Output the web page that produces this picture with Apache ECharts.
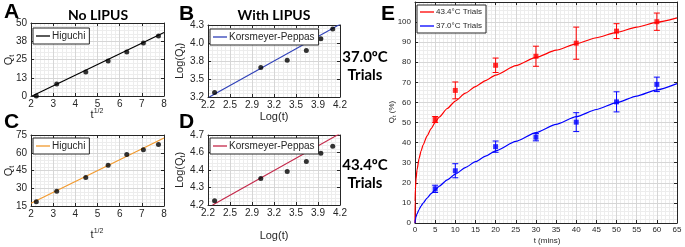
<!DOCTYPE html>
<html>
<head>
<meta charset="utf-8">
<script src="https://cdn.jsdelivr.net/npm/echarts@6/dist/echarts.min.js"></script>
<style>
  html, body { margin: 0; padding: 0; background: #fff; }
  #chart { width: 685px; height: 247px; }
</style>
</head>
<body>
<div id="chart"></div>
<script>
// ---- data ----
// sampling times 5..60 min, as sqrt(t) for Higuchi and ln(t) for Korsmeyer-Peppas
const rootT = [2.24, 3.16, 4.47, 5.48, 6.32, 7.07, 7.75]
const logT = [2.30, 3.00, 3.40, 3.69, 3.91, 4.09]

// A: Higuchi, 37.0 C (no LIPUS)
const higuchi37 = [0, 8.2, 16.5, 24, 30.1, 36.3, 41.1]
const higuchi37FitX = [2.05, 8]
const higuchi37FitY = [0, 43.5]
// B: Korsmeyer-Peppas, 37.0 C (with LIPUS)
const peppas37 = [3.27, 3.65, 3.76, 3.91, 4.09, 4.24]
const peppas37FitX = [2.22, 4.2]
const peppas37FitY = [3.2, 4.31]
// C: Higuchi, 43.4 C
const higuchi43 = [18.5, 27.5, 39, 49.5, 58.5, 62.5, 67]
const higuchi43FitX = [2, 8]
const higuchi43FitY = [17.3, 72.5]
// D: Korsmeyer-Peppas, 43.4 C
const peppas43 = [4.23, 4.39, 4.44, 4.51, 4.57, 4.62]
const peppas43FitX = [2.27, 4.2]
const peppas43FitY = [4.2, 4.71]

// E: cumulative release Q_t (%) vs time
const timeE = [5, 10, 20, 30, 40, 50, 60]
const release43 = [51.5, 66, 78.5, 83, 89.5, 95.5, 100.2]
const error43 = [1.5, 4.2, 3.6, 5, 8, 3.7, 4.3]
const release37 = [17, 26, 38, 42.7, 50.2, 60.3, 69]
const error37 = [1.8, 3.5, 2.8, 1.8, 4.7, 5, 3.6]
// fitted release curves
const curveT = [0, 0.02, 0.1, 0.25, 0.5, 1, 1.5, 2, 3, 4, 5, 6, 8, 10, 12.5, 15, 17.5, 20, 25, 30, 35, 40, 45, 50, 55, 60, 65]
const curve43 = [0, 10.8, 16.9, 21.8, 26.4, 32, 35.8, 38.8, 43.4, 47, 50.1, 52.7, 57, 60.7, 64.6, 67.9, 70.9, 73.6, 78.3, 82.4, 86, 89.2, 92.2, 94.9, 97.5, 99.9, 102.1]
const curve37 = [0, 0.8, 1.85, 3.08, 4.54, 6.7, 8.41, 9.88, 12.4, 14.6, 16.5, 18.3, 21.5, 24.3, 27.6, 30.5, 33.3, 35.9, 40.6, 45, 49.1, 52.9, 56.5, 59.9, 63.2, 66.3, 69.4]

// ---- tick values and labels ----
const rootTicks = [2, 3, 4, 5, 6, 7, 8]
const rootLabels = ['2', '3', '4', '5', '6', '7', '8']
const logTicks = [2.2, 2.5333, 2.8667, 3.2, 3.5333, 3.8667, 4.2]
const logLabels = ['2.2', '2.5', '2.9', '3.2', '3.5', '3.9', '4.2']
const aTicks = [0, 12.5, 25, 37.5, 50]
const aLabels = ['0', '13', '25', '38', '50']
const bTicks = [3.2, 3.475, 3.75, 4.025, 4.3]
const bLabels = ['3.2', '3.5', '3.8', '4.0', '4.3']
const cTicks = [15, 30, 45, 60, 75]
const cLabels = ['15', '30', '45', '60', '75']
const dTicks = [4.2, 4.325, 4.45, 4.575, 4.7]
const dLabels = ['4.2', '4.3', '4.4', '4.6', '4.7']
const eTimeTicks = [0, 5, 10, 15, 20, 25, 30, 35, 40, 45, 50, 55, 60, 65]
const eTimeLabels = ['0', '5', '10', '15', '20', '25', '30', '35', '40', '45', '50', '55', '60', '65']
const eQTicks = [0, 10, 20, 30, 40, 50, 60, 70, 80, 90, 100, 110]
const eQLabels = ['0', '10', '20', '30', '40', '50', '60', '70', '80', '90', '100', '']

// ---- styling ----
const AX = '#262626'
const MAJOR = '#d6d6d6'
const MINOR = '#ededed'
const FONT = 'Liberation Sans'
const BOLD = 'Lato'

const grids = []
const xAxis = []
const yAxis = []
const series = []
const legends = []

function minorValues(ticks, n) {
  let out = []
  for (let i = 0; i < ticks.length - 1; i++) {
    for (let k = 1; k < n; k++) out.push(ticks[i] + (ticks[i + 1] - ticks[i]) * k / n)
  }
  return out
}

// light minor grid, drawn under everything
function gridAxis(gi, s, pos) {
  return {
    type: 'value', gridIndex: gi, position: pos,
    min: s.ticks[0], max: s.ticks[s.ticks.length - 1],
    axisLine: { show: false },
    axisLabel: { show: false },
    axisTick: { show: false, customValues: minorValues(s.ticks, s.minor) },
    splitLine: { show: true, lineStyle: { color: MINOR, width: 1 } },
    z: 0
  }
}

function mainAxis(gi, s, pos, mirror) {
  return {
    type: 'value', gridIndex: gi, position: pos,
    min: s.ticks[0], max: s.ticks[s.ticks.length - 1],
    axisLine: { show: true, onZero: false, lineStyle: { color: AX, width: 1 } },
    axisTick: { show: true, inside: true, length: 3, customValues: s.ticks, lineStyle: { color: AX, width: 1 } },
    axisLabel: {
      show: !mirror, customValues: s.ticks, color: AX, fontFamily: FONT,
      fontSize: s.fontSize, margin: s.margin,
      formatter: v => {
        const i = s.ticks.findIndex(t => Math.abs(t - v) < 1e-6)
        return i < 0 ? '' : s.labels[i]
      }
    },
    splitLine: { show: !mirror, lineStyle: { color: MAJOR, width: 1 } },
    z: 1
  }
}

function panel(rect, xs, ys) {
  const gi = grids.length
  grids.push(rect)
  xAxis.push(gridAxis(gi, xs, 'bottom'))
  yAxis.push(gridAxis(gi, ys, 'left'))
  const ref = { xAxisIndex: xAxis.length, yAxisIndex: yAxis.length }
  xAxis.push(mainAxis(gi, xs, 'bottom', false))
  yAxis.push(mainAxis(gi, ys, 'left', false))
  xAxis.push(mainAxis(gi, xs, 'top', true))
  yAxis.push(mainAxis(gi, ys, 'right', true))
  return ref
}

function pair(xs, ys) {
  return xs.map((x, i) => [x, ys[i]])
}

function fitPanel(ref, name, color, xs, ys, fitX, fitY) {
  series.push({
    name, type: 'line', ...ref, data: pair(fitX, fitY), symbol: 'none',
    lineStyle: { color, width: 1.2 }, itemStyle: { color }, clip: true
  })
  series.push({
    type: 'scatter', ...ref, data: pair(xs, ys), symbol: 'circle', symbolSize: 5,
    itemStyle: { color: '#000' }, z: 3
  })
}

function smallLegend(name, left, top) {
  return {
    data: [name], left, top, orient: 'vertical', icon: 'rect',
    formatter: n => n.replace(/ [A-D]$/, ''),
    padding: [3, 4, 3, 3], itemWidth: 14, itemHeight: 1.3, itemGap: 0,
    backgroundColor: '#fff', borderColor: AX, borderWidth: 1, borderRadius: 0,
    textStyle: { color: AX, fontFamily: FONT, fontSize: 10, padding: [0, 0, 0, -3] }
  }
}

const smallX = { fontSize: 10, margin: 3, minor: 5 }
const smallY = { fontSize: 10, margin: 4, minor: 5 }

const refA = panel({ left: 31, top: 23, width: 133, height: 73 },
  { ...smallX, ticks: rootTicks, labels: rootLabels }, { ...smallY, ticks: aTicks, labels: aLabels })
const refB = panel({ left: 208, top: 25, width: 132, height: 72 },
  { ...smallX, ticks: logTicks, labels: logLabels }, { ...smallY, ticks: bTicks, labels: bLabels })
const refC = panel({ left: 31, top: 135, width: 133, height: 71 },
  { ...smallX, ticks: rootTicks, labels: rootLabels }, { ...smallY, ticks: cTicks, labels: cLabels })
const refD = panel({ left: 208, top: 135, width: 132, height: 70 },
  { ...smallX, ticks: logTicks, labels: logLabels }, { ...smallY, ticks: dTicks, labels: dLabels })
const refE = panel({ left: 415, top: 2, width: 262, height: 221 },
  { fontSize: 8, margin: 3, minor: 5, ticks: eTimeTicks, labels: eTimeLabels },
  { fontSize: 8, margin: 4, minor: 5, ticks: eQTicks, labels: eQLabels })

fitPanel(refA, 'Higuchi A', '#000000', rootT, higuchi37, higuchi37FitX, higuchi37FitY)
fitPanel(refB, 'Korsmeyer-Peppas B', '#2f40b8', logT, peppas37, peppas37FitX, peppas37FitY)
fitPanel(refC, 'Higuchi C', '#f29a2e', rootT, higuchi43, higuchi43FitX, higuchi43FitY)
fitPanel(refD, 'Korsmeyer-Peppas D', '#c4284a', logT, peppas43, peppas43FitX, peppas43FitY)

legends.push(smallLegend('Higuchi A', 33, 28))
legends.push(smallLegend('Korsmeyer-Peppas B', 210, 29))
legends.push(smallLegend('Higuchi C', 33, 138))
legends.push(smallLegend('Korsmeyer-Peppas D', 210, 138))

function errorBars(color, values, errors) {
  return {
    type: 'custom', ...refE, z: 3,
    data: timeE.map((t, i) => [t, values[i] - errors[i], values[i] + errors[i]]),
    encode: { x: 0, y: [1, 2] },
    renderItem: (params, api) => {
      const lo = api.coord([api.value(0), api.value(1)])
      const hi = api.coord([api.value(0), api.value(2)])
      const w = 3
      const st = { stroke: color, lineWidth: 1 }
      return {
        type: 'group', children: [
          { type: 'line', shape: { x1: lo[0], y1: lo[1], x2: hi[0], y2: hi[1] }, style: st },
          { type: 'line', shape: { x1: lo[0] - w, y1: lo[1], x2: lo[0] + w, y2: lo[1] }, style: st },
          { type: 'line', shape: { x1: hi[0] - w, y1: hi[1], x2: hi[0] + w, y2: hi[1] }, style: st }
        ]
      }
    }
  }
}

const RED = '#ff0000'
const BLUE = '#0000ff'
series.push({
  name: '43.4°C Trials', type: 'line', ...refE, data: pair(curveT, curve43), symbol: 'none',
  smooth: 0.2, smoothMonotone: 'x', lineStyle: { color: RED, width: 1.2 }, itemStyle: { color: RED }
})
series.push({
  name: '37.0°C Trials', type: 'line', ...refE, data: pair(curveT, curve37), symbol: 'none',
  smooth: 0.2, smoothMonotone: 'x', lineStyle: { color: BLUE, width: 1.2 }, itemStyle: { color: BLUE }
})
series.push(errorBars(RED, release43, error43))
series.push(errorBars(BLUE, release37, error37))
series.push({ type: 'scatter', ...refE, data: pair(timeE, release43), symbol: 'rect', symbolSize: 5, itemStyle: { color: RED }, z: 4 })
series.push({ type: 'scatter', ...refE, data: pair(timeE, release37), symbol: 'rect', symbolSize: 5, itemStyle: { color: BLUE }, z: 4 })

legends.push({
  data: ['43.4°C Trials', '37.0°C Trials'], left: 417, top: 5, orient: 'vertical', icon: 'rect',
  padding: [3, 4, 3, 3], itemWidth: 14, itemHeight: 1.3, itemGap: 6,
  backgroundColor: '#fff', borderColor: AX, borderWidth: 1, borderRadius: 0,
  textStyle: { color: AX, fontFamily: FONT, fontSize: 8, padding: [0, 0, 0, -3] }
})

// ---- texts ----
function txt(x, y, text, style, rot) {
  return {
    type: 'text', x, y, rotation: rot || 0, z: 10,
    style: Object.assign({ text, fill: AX, fontFamily: FONT, fontSize: 10, align: 'center', verticalAlign: 'middle' }, style)
  }
}
const letter = { fontFamily: FONT, fontWeight: 'bold', fontSize: 21, fill: '#000', align: 'left', verticalAlign: 'top' }
const heading = { fontFamily: BOLD, fontWeight: 'bold', fontSize: 14, fill: '#000' }
const side = { fontFamily: BOLD, fontWeight: 'bold', fontSize: 15, fill: '#000' }
const subRich = {
  q: { fontFamily: FONT, fontSize: 11, fill: AX },
  s: { fontFamily: FONT, fontSize: 7, fill: AX, padding: [7, 0, 0, 0] },
  p: { fontFamily: FONT, fontSize: 7, fill: AX, padding: [0, 0, 7, 0] }
}
const R = Math.PI / 2

const graphic = [
  txt(4, 2, 'A', letter), txt(179, 4, 'B', letter), txt(4, 112, 'C', letter), txt(179, 112, 'D', letter),
  txt(381, 4, 'E', letter),
  txt(98, 15, 'No LIPUS', heading), txt(274, 15, 'With LIPUS', heading),
  txt(365, 57, '37.0ºC', side), txt(365, 75, 'Trials', side),
  txt(365, 165, '43.4ºC', side), txt(365, 183, 'Trials', side),
  txt(97, 115, '', { text: '{q|t}{p|1/2}', rich: subRich }),
  txt(97, 235, '', { text: '{q|t}{p|1/2}', rich: subRich }),
  txt(274, 117, 'Log(t)', { fontSize: 11 }),
  txt(274, 236, 'Log(t)', { fontSize: 11 }),
  txt(9, 60, '', { text: '{q|Q}{s|t}', rich: subRich }, R),
  txt(9, 171, '', { text: '{q|Q}{s|t}', rich: subRich }, R),
  txt(180, 61, '', { text: '{q|Log(Q}{s|t}{q|)}', rich: subRich }, R),
  txt(180, 170, '', { text: '{q|Log(Q}{s|t}{q|)}', rich: subRich }, R),
  txt(392, 112, '', { text: '{q|Q}{s|t}{q| (%)}', rich: { q: { fontFamily: FONT, fontSize: 8, fill: AX }, s: { fontFamily: FONT, fontSize: 6, fill: AX, padding: [5, 0, 0, 0] } } }, R),
  txt(547, 241, 't (mins)', { fontSize: 8 })
]

const chart = echarts.init(document.getElementById('chart'))
chart.setOption({
  animation: false,
  backgroundColor: '#fff',
  grid: grids,
  xAxis,
  yAxis,
  legend: legends,
  series,
  graphic
})
</script>
</body>
</html>
